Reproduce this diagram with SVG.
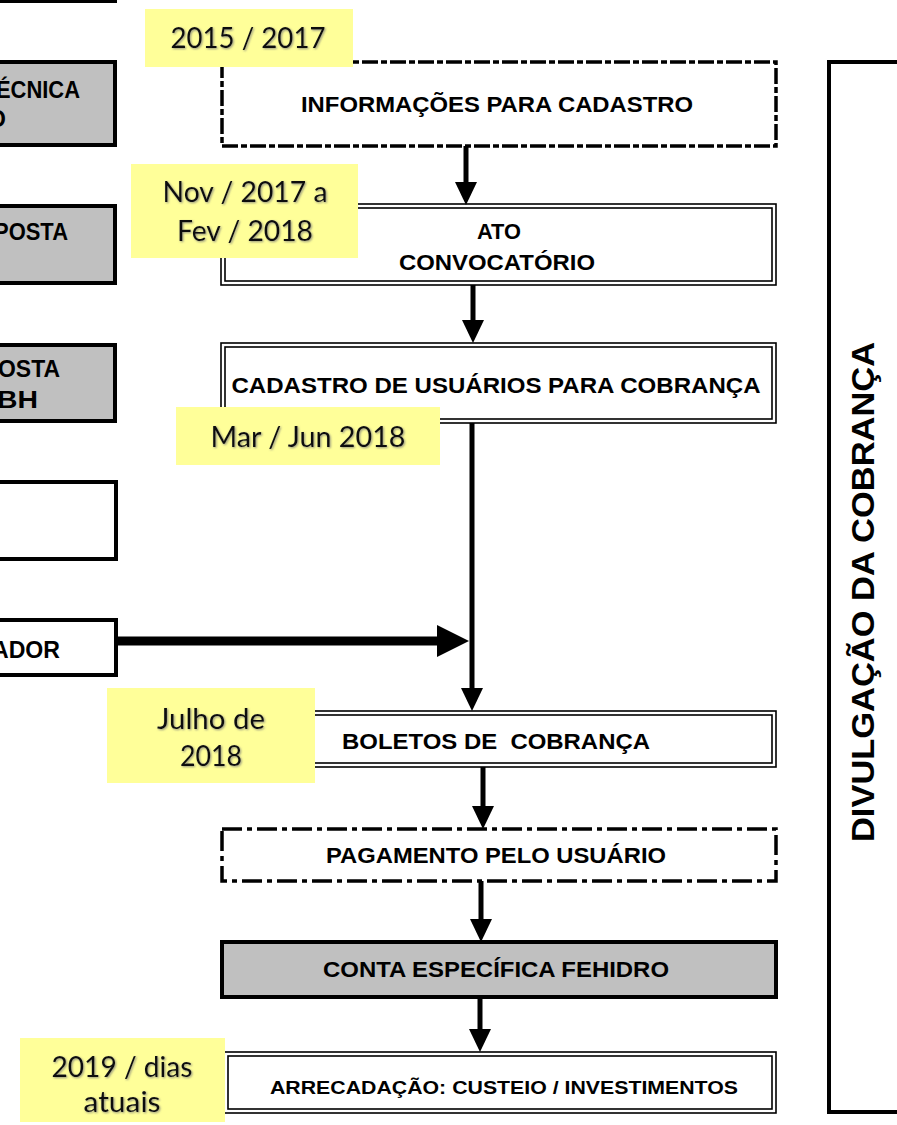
<svg xmlns="http://www.w3.org/2000/svg" width="897" height="1125" viewBox="0 0 897 1125">
<defs>
<style>
.bx{fill:#fff;stroke:#000;stroke-width:4}
.gr{fill:#c0c0c0;stroke:#000;stroke-width:4}
.dbl{fill:none;stroke:#000;stroke-width:1.6}
.dash{fill:#fff;stroke:#000;stroke-width:3.5;stroke-dasharray:16 3 6 3}
.dashdot{fill:#fff;stroke:#000;stroke-width:3.5;stroke-dasharray:20 5 5 5}
.t{font-family:"Liberation Sans",Arial,sans-serif;font-weight:bold;font-size:22.5px;fill:#000}
.tl{font-family:"Liberation Sans",Arial,sans-serif;font-weight:bold;font-size:23px;fill:#000}
.ts{font-family:"Liberation Sans",Arial,sans-serif;font-weight:bold;font-size:19px;fill:#000}
.yl{fill:#ffff99}
.yt{font-family:Lato,"Open Sans",sans-serif;font-size:28px;fill:#111;filter:url(#sh)}
.cn{stroke:#000;stroke-width:5;fill:none}
</style>
<filter id="sh" x="-10%" y="-30%" width="120%" height="160%">
<feDropShadow dx="1" dy="1" stdDeviation="0.8" flood-color="#777" flood-opacity="0.8"/>
</filter>
<marker id="ah" markerUnits="userSpaceOnUse" markerWidth="24" markerHeight="24" refX="0" refY="11" orient="auto" viewBox="0 0 24 22">
<path d="M0,0 L23,11 L0,22 z" fill="#000"/>
</marker>
<marker id="ahb" markerUnits="userSpaceOnUse" markerWidth="33" markerHeight="33" refX="0" refY="16" orient="auto" viewBox="0 0 33 32">
<path d="M0,0 L32,16 L0,32 z" fill="#000"/>
</marker>
</defs>

<!-- left partial boxes -->
<g id="left-top">
<line x1="-5" y1="1.5" x2="117" y2="1.5" stroke="#000" stroke-width="3"/>
</g>
<g id="left-nota-tecnica">
<rect class="gr" x="-10" y="62" width="125" height="83"/>
<text class="tl" x="80" y="98" text-anchor="end" textLength="84" lengthAdjust="spacingAndGlyphs">ÉCNICA</text>
<text class="tl" x="6" y="127" text-anchor="end">O</text>
</g>
<g id="left-proposta-1">
<rect class="gr" x="-10" y="206" width="125" height="77"/>
<text class="tl" x="68" y="240" text-anchor="end" textLength="74" lengthAdjust="spacingAndGlyphs">POSTA</text>
</g>
<g id="left-proposta-2">
<rect class="gr" x="-10" y="345" width="125" height="76"/>
<text class="tl" x="60" y="377" text-anchor="end" textLength="62" lengthAdjust="spacingAndGlyphs">OSTA</text>
<text class="tl" x="38" y="408" text-anchor="end" textLength="41" lengthAdjust="spacingAndGlyphs">BH</text>
</g>
<g id="left-empty">
<rect class="bx" x="-10" y="482" width="126" height="77"/>
</g>
<g id="left-ador">
<rect class="bx" x="-10" y="620" width="126" height="55"/>
<text class="tl" x="60" y="658" text-anchor="end" textLength="68" lengthAdjust="spacingAndGlyphs">ADOR</text>
</g>

<!-- center column -->
<g id="informacoes">
<rect class="dash" x="222" y="62" width="554" height="84"/>
<text class="t" x="497" y="112" text-anchor="middle" textLength="392" lengthAdjust="spacingAndGlyphs">INFORMAÇÕES PARA CADASTRO</text>
</g>
<g id="ato">
<rect fill="#fff" x="221" y="204" width="555" height="81"/>
<rect class="dbl" x="221" y="204" width="555" height="81"/>
<rect class="dbl" x="225" y="208" width="547" height="73"/>
<text class="t" x="499" y="239" text-anchor="middle" textLength="44" lengthAdjust="spacingAndGlyphs">ATO</text>
<text class="t" x="497" y="270" text-anchor="middle" textLength="196" lengthAdjust="spacingAndGlyphs">CONVOCATÓRIO</text>
</g>
<g id="cadastro">
<rect fill="#fff" x="221" y="343" width="555" height="80"/>
<rect class="dbl" x="221" y="343" width="555" height="80"/>
<rect class="dbl" x="225" y="347" width="547" height="72"/>
<text class="t" x="496" y="393" text-anchor="middle" textLength="529" lengthAdjust="spacingAndGlyphs">CADASTRO DE USUÁRIOS PARA COBRANÇA</text>
</g>
<g id="boletos">
<rect fill="#fff" x="221" y="711" width="555" height="56"/>
<rect class="dbl" x="221" y="711" width="555" height="56"/>
<rect class="dbl" x="225" y="715" width="547" height="48"/>
<text class="t" x="496" y="749" text-anchor="middle" textLength="308" lengthAdjust="spacingAndGlyphs" xml:space="preserve">BOLETOS DE  COBRANÇA</text>
</g>
<g id="pagamento">
<rect class="dashdot" x="222" y="829" width="554" height="52"/>
<text class="t" x="496" y="863" text-anchor="middle" textLength="340" lengthAdjust="spacingAndGlyphs">PAGAMENTO PELO USUÁRIO</text>
</g>
<g id="conta">
<rect class="gr" x="222" y="942" width="554" height="55"/>
<text class="t" x="496" y="977" text-anchor="middle" textLength="346" lengthAdjust="spacingAndGlyphs">CONTA ESPECÍFICA FEHIDRO</text>
</g>
<g id="arrecadacao">
<rect fill="#fff" x="224" y="1052" width="552" height="61"/>
<rect class="dbl" x="224" y="1052" width="552" height="61"/>
<rect class="dbl" x="228" y="1056" width="544" height="53"/>
<text class="ts" x="504" y="1094" text-anchor="middle" textLength="468" lengthAdjust="spacingAndGlyphs">ARRECADAÇÃO: CUSTEIO / INVESTIMENTOS</text>
</g>

<!-- right box -->
<g id="divulgacao">
<path d="M897,62 H829 V1112 H897" fill="none" stroke="#000" stroke-width="4"/>
<text class="t" style="font-size:31px" transform="translate(874,592) rotate(-90)" text-anchor="middle" textLength="500" lengthAdjust="spacingAndGlyphs">DIVULGAÇÃO DA COBRANÇA</text>
</g>

<!-- connectors -->
<g id="connectors">
<line class="cn" x1="466" y1="146" x2="466" y2="182" marker-end="url(#ah)"/>
<line class="cn" x1="473" y1="285" x2="473" y2="320" marker-end="url(#ah)"/>
<line class="cn" x1="472" y1="423" x2="472" y2="688" marker-end="url(#ah)"/>
<line stroke="#000" stroke-width="9" x1="117" y1="641" x2="437" y2="641" marker-end="url(#ahb)"/>
<line class="cn" x1="483" y1="767" x2="483" y2="806" marker-end="url(#ah)"/>
<line class="cn" x1="481" y1="881" x2="481" y2="919" marker-end="url(#ah)"/>
<line class="cn" x1="480" y1="997" x2="480" y2="1029" marker-end="url(#ah)"/>
</g>

<!-- date labels -->
<g id="label-2015">
<rect class="yl" x="145" y="9" width="208" height="58"/>
<text class="yt" x="248" y="48" text-anchor="middle" textLength="155" lengthAdjust="spacingAndGlyphs">2015 / 2017</text>
</g>
<g id="label-nov2017">
<rect class="yl" x="131" y="164" width="227" height="94"/>
<text class="yt" x="245" y="202" text-anchor="middle" textLength="165" lengthAdjust="spacingAndGlyphs">Nov / 2017 a</text>
<text class="yt" x="245" y="241" text-anchor="middle" textLength="136" lengthAdjust="spacingAndGlyphs">Fev / 2018</text>
</g>
<g id="label-mar2018">
<rect class="yl" x="176" y="407" width="264" height="58"/>
<text class="yt" x="308" y="447" text-anchor="middle" textLength="195" lengthAdjust="spacingAndGlyphs">Mar / Jun 2018</text>
</g>
<g id="label-julho2018">
<rect class="yl" x="107" y="688" width="208" height="95"/>
<text class="yt" x="211" y="729" text-anchor="middle" textLength="108" lengthAdjust="spacingAndGlyphs">Julho de</text>
<text class="yt" x="211" y="766" text-anchor="middle" textLength="62" lengthAdjust="spacingAndGlyphs">2018</text>
</g>
<g id="label-2019">
<rect class="yl" x="20" y="1038" width="205" height="84"/>
<text class="yt" x="122" y="1077" text-anchor="middle" textLength="141" lengthAdjust="spacingAndGlyphs">2019 / dias</text>
<text class="yt" x="122" y="1112" text-anchor="middle" textLength="77" lengthAdjust="spacingAndGlyphs">atuais</text>
</g>
</svg>
